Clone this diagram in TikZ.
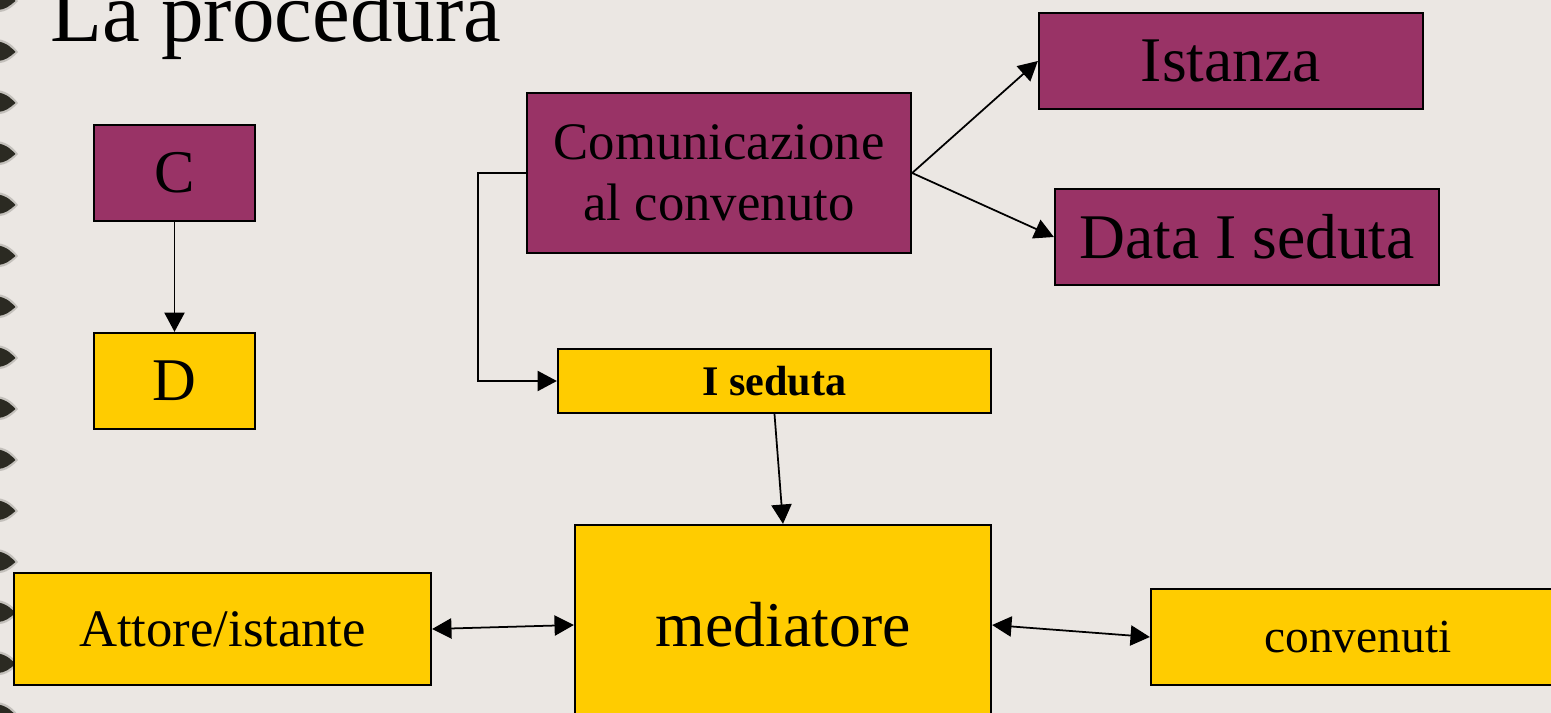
\documentclass[tikz,border=0pt]{standalone}
\usepackage{fontspec}
\setmainfont{Liberation Serif}
\usetikzlibrary{arrows.meta, positioning}

\definecolor{sfondo}{HTML}{EBE7E3}
\definecolor{viola}{HTML}{993366}
\definecolor{giallo}{HTML}{FFCC00}
\definecolor{spirale}{HTML}{2B2A22}

\tikzset{
    purplebox/.style = {draw, line width=1.3pt, fill=viola, inner sep=0pt,
        minimum width=7.68cm, minimum height=1.92cm, font=\fontsize{36.2}{43}\selectfont},
    goldbox/.style = {draw, line width=1.3pt, fill=giallo, inner sep=0pt,
        minimum height=1.92cm},
    freccia/.style = {-{Triangle[length=11pt, width=11.5pt]}, line width=1pt},
    doppia/.style = {{Triangle[length=11pt, width=11.5pt]}-{Triangle[length=11pt, width=11.5pt]}, line width=1pt}
}

\begin{document}
\begin{tikzpicture} [node distance = 4.16cm, on grid, auto]
    \fill [sfondo] (0,0) rectangle (31.02,-14.26);
    \useasboundingbox (0,0) rectangle (31.02,-14.26);
    \clip (0,0) rectangle (31.02,-14.26);

    % spirale sul bordo
    \foreach \y in {0,...,14} {
        \fill [spirale, opacity=0.2, shift={(0,-1.02*\y)}]
            (-0.05,0.24) .. controls (0.18,0.21) and (0.3,0.06) .. (0.36,-0.02)
            .. controls (0.26,-0.13) and (0.12,-0.25) .. (-0.05,-0.24) -- cycle;
        \fill [spirale, shift={(0,-1.02*\y)}]
            (-0.05,0.19) .. controls (0.14,0.17) and (0.24,0.05) .. (0.31,-0.02)
            .. controls (0.21,-0.1) and (0.1,-0.21) .. (-0.05,-0.19) -- cycle;
    }

    \node (titolo) [anchor=base west, inner sep=0pt, font=\fontsize{48.4}{58}\selectfont] at (1.0,-0.84) {La procedura};

    \node (c) [purplebox, minimum width=3.22cm, font=\fontsize{34.5}{41}\selectfont] at (3.49,-3.46) {C};
    \node (d) [goldbox, minimum width=3.22cm, below = of c, font=\fontsize{34.5}{41}\selectfont] {D};
    \node (com) [purplebox, minimum height=3.2cm, align=center, font=\fontsize{30}{35}\selectfont] at (14.38,-3.46) {Comunicazione\\al convenuto};
    \node (ist) [purplebox] at (24.62,-1.22) {Istanza};
    \node (data) [purplebox] at (24.94,-4.74) {Data I seduta};
    \node (iseduta) [goldbox, minimum width=8.66cm, minimum height=1.28cm, right = 12cm of d,
        font=\bfseries\fontsize{24}{29}\selectfont] {I seduta};
    \node (med) [goldbox, minimum width=8.32cm, minimum height=4cm, font=\fontsize{36.3}{44}\selectfont] at (15.66,-12.5) {mediatore};
    \node (attore) [goldbox, minimum width=8.34cm, minimum height=2.24cm, font=\fontsize{30}{36}\selectfont] at (4.45,-12.58) {Attore/istante};
    \node (conv) [goldbox, minimum width=8.28cm, font=\fontsize{27}{32}\selectfont] at (27.16,-12.74) {convenuti};

    \path [freccia] (c) edge (d);
    \path [freccia] (com.east) edge (ist.west);
    \path [freccia] (com.east) edge (data.west);
    \draw [freccia] (com.west) -- ++(-0.96,0) |- (iseduta.west);
    \path [freccia] (iseduta.south) edge (med.north);
    \path [doppia] (attore.east) edge (med.west);
    \path [doppia] (med.east) edge (conv.west);
\end{tikzpicture}
\end{document}
